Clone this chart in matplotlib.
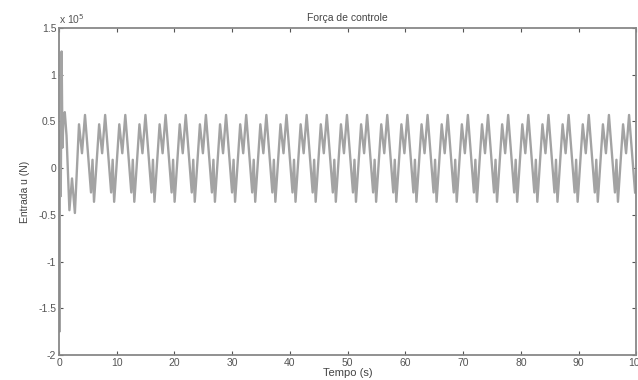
import numpy as np
import matplotlib
matplotlib.use("Agg")
import matplotlib.pyplot as plt

# control force, in units of 1e5 N
scale = 1e5

# start-up transient
t_start = [0.0, 0.08, 0.15, 0.3, 0.45, 0.6, 0.75, 1.0, 1.3, 1.8, 2.25, 2.75]
u_start = [0.0, -1.75, 0.4, -0.3, 1.25, 0.22, 0.5, 0.6, 0.35, -0.45, -0.11, -0.48]

# one cycle of the steady oscillation (offsets in s from the short peak)
cycle_dt = [0.0, 0.52, 1.04, 2.08, 2.34, 2.6]
cycle_u = [0.47, 0.16, 0.57, -0.26, 0.09, -0.36]
period = 3.49
first_peak = 3.46
n_cycles = 28

t_steady = (first_peak + np.add.outer(np.arange(n_cycles) * period, cycle_dt)).ravel()
u_steady = np.tile(cycle_u, n_cycles)
keep = t_steady <= 100
t = np.concatenate([t_start, t_steady[keep]])
u = np.concatenate([u_start, u_steady[keep]]) * scale

plt.rcParams['font.family'] = ['Liberation Sans', 'DejaVu Sans']
fig = plt.figure(figsize=(6.38, 3.8), dpi=100)
ax = fig.add_axes([0.0925, 0.066, 0.905, 0.86])

ax.plot(t, u, color="#a3a3a3", linewidth=1.7)

ax.set_xlim(0, 100)
ax.set_ylim(-2e5, 1.5e5)
ax.set_xticks(np.arange(0, 101, 10))
ax.set_yticks(np.arange(-2e5, 1.51e5, 0.5e5))
ax.set_yticklabels(["-2", "-1.5", "-1", "-0.5", "0", "0.5", "1", "1.5"])
ax.tick_params(direction="in", length=3, labelsize=7.5, colors="#555555",
               top=True, right=True, pad=2)
for s in ax.spines.values():
    s.set_color("#888888")
    s.set_linewidth(1.3)

ax.text(0.0, 1.005, r"x 10$^5$", transform=ax.transAxes, fontsize=7.5,
        color="#555555", ha="left", va="bottom")
ax.set_title("Força de controle", fontsize=7.5, color="#444444", pad=5)
ax.set_xlabel("Tempo (s)", fontsize=8, color="#444444", labelpad=0)
ax.set_ylabel("Entrada u (N)", fontsize=7.5, color="#444444", labelpad=6)

fig.savefig("out.png", dpi=100)
